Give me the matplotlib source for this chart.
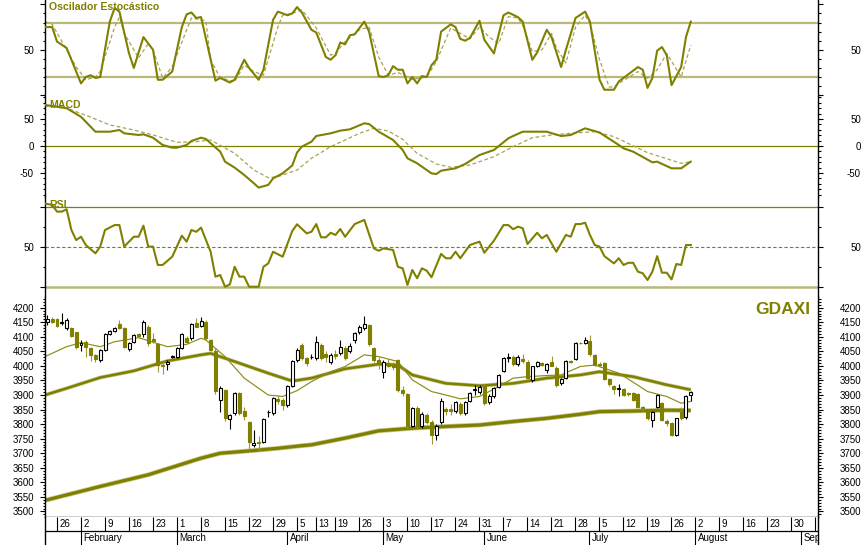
import numpy as np
import pandas as pd
import matplotlib
matplotlib.use("Agg")
import matplotlib.pyplot as plt

plt.rcParams['font.family'] = ['Liberation Sans Narrow', 'Liberation Sans', 'DejaVu Sans']

OLIVE = '#808000'
LIGHT = '#b9b97a'
DASH = '#a4a455'

# ---------------- data ----------------
first_day = '2004-01-22'
axis_end = '2004-09-06'
holidays = ['2004-04-09', '2004-04-12']
ref_day = '2004-01-26'   # indicator day numbers are counted from this session

opens = [4150, 4161, 4161, 4148, 4131, 4131, 4115, 4072, 4083, 4061,
         4038, 4020, 4055, 4109, 4120, 4143, 4129, 4058, 4083, 4110,
         4109, 4135, 4092, 4074, 4003, 4005, 4030, 4032, 4063, 4097,
         4097, 4146, 4138, 4152, 4089, 4051, 3883, 3918, 3818, 3837,
         3906, 3845, 3809, 3729, 3740, 3740, 3840, 3837, 3885, 3883,
         3866, 3932, 4020, 4072, 4026, 4031, 4026, 4072, 4040, 4012,
         4040, 4043, 4061, 4051, 4089, 4115, 4131, 4141, 4061, 4020,
         3980, 4010, 4005, 4020, 3918, 3903, 3795, 3857, 3792, 3832,
         3809, 3761, 3807, 3852, 3852, 3845, 3868, 3837, 3880, 3918,
         3910, 3932, 3875, 3895, 3929, 3983, 4028, 4032, 4006, 4025,
         4015, 3952, 4001, 4010, 3986, 4015, 3994, 3940, 3960, 4017,
         4024, 4080, 4078, 4086, 4038, 4005, 4009, 3955, 3931, 3920,
         3920, 3906, 3906, 3903, 3858, 3849, 3814, 3860, 3872, 3812,
         3803, 3761, 3843, 3823, 3900]
highs = [4175, 4168, 4165, 4181, 4166, 4134, 4118, 4090, 4088, 4066,
         4042, 4058, 4112, 4125, 4134, 4158, 4132, 4082, 4108, 4112,
         4158, 4140, 4112, 4078, 4018, 4020, 4036, 4066, 4112, 4102,
         4148, 4163, 4169, 4156, 4093, 4060, 3930, 3922, 3836, 3910,
         3910, 3860, 3812, 3780, 3760, 3822, 3850, 3893, 3900, 3890,
         3936, 4020, 4060, 4078, 4032, 4040, 4104, 4078, 4050, 4045,
         4055, 4090, 4068, 4080, 4115, 4140, 4170, 4145, 4066, 4030,
         4020, 4025, 4015, 4025, 3930, 3906, 3860, 3862, 3840, 3838,
         3815, 3800, 3890, 3860, 3870, 3880, 3875, 3880, 3910, 3935,
         3935, 3938, 3902, 3926, 3972, 4030, 4045, 4036, 4036, 4040,
         4020, 4000, 4018, 4015, 4010, 4035, 3998, 3960, 4022, 4020,
         4082, 4082, 4098, 4105, 4042, 4012, 4012, 3958, 3935, 3937,
         3925, 3912, 3910, 3906, 3862, 3852, 3845, 3904, 3876, 3818,
         3806, 3822, 3858, 3900, 3915]
lows = [4141, 4148, 4135, 4140, 4123, 4100, 4057, 4052, 4032, 4017,
        4015, 4015, 4050, 4105, 4116, 4128, 4060, 4050, 4078, 4095,
        4100, 4070, 4078, 3978, 3971, 3985, 4026, 4028, 4058, 4080,
        4090, 4132, 4135, 4090, 4050, 3905, 3840, 3812, 3784, 3830,
        3830, 3815, 3712, 3720, 3706, 3735, 3825, 3830, 3870, 3850,
        3860, 3928, 4012, 4020, 4000, 4025, 4020, 4020, 4015, 4005,
        4025, 4038, 4020, 4045, 4080, 4110, 4125, 4070, 4015, 3990,
        3960, 3995, 3985, 3912, 3895, 3788, 3790, 3788, 3788, 3800,
        3731, 3745, 3800, 3830, 3830, 3838, 3830, 3832, 3875, 3900,
        3905, 3865, 3870, 3890, 3925, 3978, 4015, 4000, 4000, 4010,
        3950, 3945, 3995, 3998, 3975, 3998, 3928, 3935, 3955, 4010,
        4020, 4075, 4075, 4035, 3998, 3995, 3950, 3932, 3905, 3895,
        3898, 3898, 3880, 3855, 3850, 3815, 3790, 3855, 3812, 3795,
        3758, 3758, 3815, 3818, 3878]
closes = [4161, 4152, 4138, 4150, 4158, 4104, 4066, 4080, 4066, 4038,
          4024, 4055, 4109, 4120, 4129, 4131, 4066, 4078, 4106, 4102,
          4150, 4078, 4086, 4003, 4000, 4012, 4033, 4063, 4109, 4083,
          4143, 4135, 4154, 4095, 4055, 3914, 3923, 3820, 3832, 3906,
          3837, 3829, 3740, 3735, 3735, 3818, 3841, 3889, 3880, 3866,
          3932, 4017, 4055, 4026, 4009, 4032, 4081, 4026, 4030, 4038,
          4035, 4066, 4026, 4070, 4112, 4135, 4143, 4074, 4020, 4005,
          4015, 4000, 3995, 3918, 3906, 3792, 3857, 3792, 3834, 3809,
          3763, 3795, 3880, 3845, 3846, 3875, 3837, 3875, 3906, 3920,
          3929, 3872, 3898, 3923, 3969, 4026, 4032, 4006, 4032, 4018,
          3958, 3998, 4012, 4004, 4006, 4000, 3935, 3955, 4017, 4013,
          4078, 4077, 4089, 4040, 4003, 4003, 3955, 3937, 3921, 3925,
          3900, 3904, 3883, 3860, 3854, 3820, 3841, 3900, 3815, 3805,
          3761, 3820, 3820, 3898, 3909]

ma20_day = [-2.5, 2, 5, 9, 12, 17, 23, 27, 30, 31, 35, 39, 44, 47, 50, 53, 57, 60, 64, 67,
            71, 74, 78, 81, 84, 88, 92, 95, 98, 102, 105, 109, 112, 117, 120, 123, 127, 130, 132]
ma20 = [4032, 4066, 4080, 4066, 4083, 4097, 4066, 4074, 4095, 4089, 4032, 3958, 3900, 3895, 3915,
        3946, 3980, 3998, 4038, 4032, 4015, 3952, 3912, 3900, 3887, 3895, 3929, 3958, 3963, 3967,
        3969, 3998, 4003, 3975, 3944, 3912, 3895, 3872, 3878]
ma50_day = [-2.5, 2, 9, 16, 23, 30, 32, 37, 44, 49, 53, 60, 67, 71, 74, 81, 88, 95, 102, 109,
            113, 120, 127, 132]
ma50 = [3900, 3923, 3960, 3983, 4017, 4038, 4043, 4015, 3975, 3948, 3958, 3990, 4006, 4003, 3969,
        3940, 3932, 3940, 3958, 3969, 3980, 3963, 3935, 3918]
ma200_day = [-2.5, 9, 19, 30, 34, 40, 46, 51, 53, 60, 67, 74, 81, 88, 95, 102, 109, 113, 120, 127, 132]
ma200 = [3538, 3586, 3626, 3683, 3700, 3708, 3717, 3726, 3729, 3752, 3777, 3786, 3792, 3797, 3809,
         3820, 3834, 3843, 3845, 3848, 3847]

stoch_k_day = [-2.5, -1, 0, 2, 5, 6, 7, 8, 9, 11, 12, 13, 15, 16, 18, 20, 21, 22, 24, 26,
               27, 28, 29, 30, 33, 34, 36, 37, 39, 40, 42, 43, 45, 46, 48, 49, 50, 51, 53, 54,
               56, 57, 58, 59, 60, 61, 62, 64, 65, 67, 68, 69, 70, 71, 72, 73, 74, 75, 76, 77,
               78, 79, 80, 82, 83, 84, 85, 86, 88, 89, 91, 93, 94, 96, 97, 99, 100, 102, 103, 105,
               106, 108, 110, 111, 113, 114, 116, 117, 118, 121, 122, 123, 124, 125, 126, 127, 128, 130, 131, 132]
stoch_k = [75, 75, 59, 52, 13, 20, 22, 19, 20, 81, 96, 92, 46, 30, 64, 50, 17, 17, 26, 75,
           89, 91, 85, 86, 16, 19, 14, 17, 39, 30, 17, 28, 83, 92, 88, 90, 97, 91, 72, 69,
           42, 39, 44, 58, 56, 66, 67, 81, 70, 21, 20, 22, 32, 28, 28, 13, 20, 13, 21, 20,
           33, 39, 70, 78, 75, 62, 60, 63, 82, 61, 46, 88, 91, 86, 81, 39, 47, 72, 64, 31,
           50, 85, 92, 81, 17, 6, 6, 15, 19, 31, 28, 8, 19, 49, 53, 44, 11, 31, 64, 81]
stoch_d_day = [-2.5, -1, 4, 6, 8, 9, 12, 13, 14, 17, 19, 20, 22, 24, 27, 28, 31, 32, 34, 37,
               39, 41, 43, 46, 47, 49, 51, 54, 57, 58, 60, 63, 65, 67, 69, 71, 74, 77, 79, 82,
               84, 86, 88, 90, 92, 94, 96, 97, 99, 101, 103, 104, 106, 108, 110, 111, 113, 115, 116, 117,
               121, 123, 125, 127, 130, 132]
stoch_d = [81, 78, 31, 17, 20, 26, 75, 86, 68, 41, 57, 50, 19, 31, 72, 85, 82, 39, 19, 15,
           33, 26, 22, 75, 88, 90, 94, 74, 44, 46, 59, 72, 75, 42, 22, 25, 17.5, 20, 37, 74,
           68, 62, 75, 64, 57, 86.5, 85, 77, 48, 50, 68, 52, 35.5, 75, 88, 79, 39, 9, 9, 13,
           26, 18.6, 28, 46, 20, 55]

macd_day = [-2.5, 2, 5, 8, 11, 13, 14, 17, 18, 20, 22, 24, 25, 27, 28, 30, 31, 34, 35, 37,
            39, 41, 42, 44, 45, 47, 49, 50, 51, 53, 54, 57, 59, 61, 64, 65, 67, 70, 72, 73,
            75, 78, 79, 80, 83, 85, 88, 91, 94, 95, 97, 102, 105, 107, 110, 113, 117, 118, 120, 124,
            125, 128, 130, 132]
macd = [76, 70, 54, 26.5, 26.5, 29.6, 23.5, 20.4, 21.6, 15.4, 1.9, -3.1, -3.1, 1.9, 9.3, 15.4, 13, -10.5, -29, -40,
        -53.7, -69, -77, -72, -60, -50.6, -36, -12, -1.2, 8, 18.5, 23.5, 28.4, 30.9, 42, 40.7, 26.5, 11.1, -7.4, -22.8,
        -32, -50.6, -51.9, -45.7, -41.3, -33.3, -16.7, -7.4, 14.2, 18.5, 26.5, 26.5, 18.5, 20.4, 32.7, 25, 1.9, -4.3, -10.5, -30.2,
        -29, -41.3, -41.3, -29]
signal_day = [-2.5, 2, 6, 11, 16, 20, 25, 29, 32, 37, 41, 44, 46, 50, 53, 57, 60, 63, 66, 69,
              72, 75, 79, 82, 86, 91, 95, 99, 103, 107, 112, 116, 123, 130, 132]
signal = [74, 70, 57, 39, 29.6, 20.4, 6.8, 8, 11.1, -13.6, -44.4, -58.6, -56.8, -44.4, -22.8, -1.2, 11.1, 23.5, 32.8, 27.8,
          12.4, -13.6, -33.3, -39.5, -35.2, -19.8, -1.2, 15.4, 20.4, 23.5, 26.5, 17.3, -12.3, -32, -29]

rsi_day = [-2.5, -1, 0, 1, 2, 3, 4, 5, 6, 8, 9, 10, 12, 13, 14, 16, 17, 18, 19, 20,
           21, 22, 24, 26, 27, 28, 29, 30, 32, 33, 34, 35, 36, 37, 38, 39, 40, 42, 43, 44,
           45, 47, 49, 50, 52, 53, 54, 55, 56, 57, 58, 59, 60, 62, 64, 66, 67, 68, 70, 71,
           72, 73, 74, 75, 76, 77, 78, 80, 81, 82, 83, 84, 86, 88, 89, 91, 93, 94, 95, 96,
           97, 98, 100, 101, 102, 104, 106, 107, 108, 109, 110, 111, 112, 113, 114, 116, 117, 118, 119, 120,
           121, 122, 123, 124, 125, 126, 127, 128, 129, 130, 131, 132]
rsi = [72, 71.3, 67.9, 67.9, 69.1, 58.6, 53.5, 55.2, 51, 46.8, 50.2, 58.6, 61.1, 61.1, 50.2, 55.2, 55.2, 60.8, 50.2, 50.2,
       40.9, 40.9, 45.1, 55.7, 52.7, 58.6, 57.7, 59.8, 47.6, 35, 35.8, 29.9, 31.1, 40, 35, 35, 29.9, 29.9, 40, 41.7,
       47.6, 45.1, 58.1, 61.5, 56.9, 57.7, 61.6, 54.9, 54.9, 57.2, 56.1, 59.1, 55.2, 61.6, 63.7, 49.3, 48.1, 49.3, 48.5, 40,
       39.2, 30.8, 38.4, 34.2, 39.2, 38, 34.7, 46.5, 44.3, 44.3, 47.6, 44.3, 51, 52.7, 47.1, 53.2, 61.1, 61.1, 59, 60.3,
       59.5, 51.5, 57.2, 54.4, 56.1, 47.6, 56.1, 55.2, 61.6, 61.6, 62.3, 56.1, 51, 50.2, 45.4, 41.7, 44.3, 40.9, 42, 42,
       37.5, 36.7, 33.3, 37.5, 45.4, 37, 37, 33.6, 41.4, 40.9, 51, 51]

month_names = ['January', 'February', 'March', 'April', 'May', 'June', 'July', 'August', 'September']
symbol = 'GDAXI'

# ---------------- calendar (trading sessions) ----------------
cal = pd.bdate_range(first_day, '2004-09-10')
cal = cal[~cal.isin(pd.to_datetime(holidays))]
base = cal.get_loc(pd.Timestamp(ref_day))
x_end = cal.get_loc(pd.Timestamp(axis_end))
XLIM = (-0.5, x_end + 0.5)

def pos(days):
    return np.asarray(days, dtype=float) + base

# ---------------- figure ----------------
W, H = 864, 545
L, R = 45, 818
fig = plt.figure(figsize=(W / 100, H / 100), dpi=100)
fig.patch.set_facecolor('white')

def rect(top, bot):
    return [L / W, 1 - bot / H, (R - L) / W, (bot - top) / H]

ax_st = fig.add_axes(rect(0, 97))
ax_md = fig.add_axes(rect(97, 197))
ax_rs = fig.add_axes(rect(197, 297))
ax_pr = fig.add_axes(rect(297, 517))
ax_dt = fig.add_axes(rect(517, 545))

TL = 3.6
TLm = 1.8
PX = 0.72

def style(ax, ylim, major, minor, labels, bottom_spine=False):
    ax.set_xlim(*XLIM)
    ax.set_ylim(*ylim)
    ax.set_xticks([])
    for s in ['top', 'bottom']:
        ax.spines[s].set_visible(False)
    if bottom_spine:
        ax.spines['bottom'].set_visible(True)
    for s in ax.spines.values():
        s.set_linewidth(1.0)
        s.set_color('black')
    ax.set_yticks(major, labels=labels, fontsize=7)
    ax.set_yticks(minor, minor=True)
    ax.tick_params(axis='y', which='major', length=TL, width=0.8, pad=6 * PX, direction='out',
                   left=True, right=False)
    ax.tick_params(axis='y', which='minor', length=TLm, width=0.8, direction='out',
                   left=True, right=False)
    axr = ax.twinx()
    axr.set_ylim(*ylim)
    axr.set_yticks(major, labels=labels, fontsize=7)
    axr.set_yticks(minor, minor=True)
    axr.tick_params(axis='y', which='major', length=TL, width=0.8, pad=38 * PX, direction='out')
    axr.tick_params(axis='y', which='minor', length=TLm, width=0.8, direction='out')
    for t in axr.get_yticklabels():
        t.set_horizontalalignment('right')
    for s in axr.spines.values():
        s.set_visible(False)
    axr.set_xticks([])
    return axr

# ---------- stochastic ----------
style(ax_st, (-2, 104.8), [0, 50, 100], list(range(10, 100, 10)), ['', '50', ''])
ax_st.axhline(80, color=LIGHT, lw=1.6, zorder=1)
ax_st.axhline(20, color=LIGHT, lw=1.6, zorder=1)
ax_st.plot(pos(stoch_d_day), stoch_d, color=DASH, lw=0.9, dashes=(3, 2), zorder=2)
ax_st.plot(pos(stoch_k_day), stoch_k, color=OLIVE, lw=1.5, zorder=3)
ax_st.text(4 / (R - L), 1 - 2 / 97, 'Oscilador Estocástico', transform=ax_st.transAxes,
           ha='left', va='top', color=OLIVE, fontsize=7.6, fontweight='bold',
           family=['Liberation Sans', 'DejaVu Sans'])

# ---------- MACD ----------
style(ax_md, (-94.4, 90.7), [-50, 0, 50], list(range(-90, 91, 10)), ['-50', '0', '50'])
ax_md.axhline(0, color=OLIVE, lw=0.9, zorder=1)
ax_md.plot(pos(signal_day), signal, color=DASH, lw=0.9, dashes=(3, 2), zorder=2)
ax_md.plot(pos(macd_day), macd, color=OLIVE, lw=1.5, zorder=3)
ax_md.text(4 / (R - L), 1 - 3 / 100, 'MACD', transform=ax_md.transAxes,
           ha='left', va='top', color=OLIVE, fontsize=7.6, fontweight='bold',
           family=['Liberation Sans', 'DejaVu Sans'])

# ---------- RSI ----------
style(ax_rs, (24.7, 75.3), [30, 50, 70], [40, 60], ['', '50', ''])
ax_rs.axhline(70, color=OLIVE, lw=0.9, zorder=1)
ax_rs.axhline(50, color=OLIVE, lw=0.8, dashes=(3, 2), zorder=1)
ax_rs.axhline(30, color=LIGHT, lw=1.8, zorder=1)
ax_rs.plot(pos(rsi_day), rsi, color=OLIVE, lw=1.5, zorder=3)
ax_rs.text(4 / (R - L), 1 - 3 / 100, 'RSI', transform=ax_rs.transAxes,
           ha='left', va='top', color=OLIVE, fontsize=7.6, fontweight='bold',
           family=['Liberation Sans', 'DejaVu Sans'])

# ---------- price ----------
style(ax_pr, (3481, 4236.7), list(range(3500, 4201, 50)), list(range(3490, 4231, 10)),
      [str(v) for v in range(3500, 4201, 50)], bottom_spine=True)

ax_pr.plot(pos(ma200_day), ma200, color='#c6c68e', lw=3.4, zorder=2, solid_capstyle='butt')
ax_pr.plot(pos(ma200_day), ma200, color=OLIVE, lw=2.3, zorder=2, solid_capstyle='butt')
ax_pr.plot(pos(ma50_day), ma50, color='#c6c68e', lw=2.8, zorder=2, solid_capstyle='butt')
ax_pr.plot(pos(ma50_day), ma50, color=OLIVE, lw=1.8, zorder=2, solid_capstyle='butt')
ax_pr.plot(pos(ma20_day), ma20, color='#8c8c1a', lw=0.85, zorder=2)

o = np.array(opens, float)
h = np.array(highs, float)
lo = np.array(lows, float)
c = np.array(closes, float)
xs = np.arange(len(o))
up = c >= o
ax_pr.vlines(xs[up], lo[up], h[up], color='black', lw=0.8, zorder=3)
ax_pr.vlines(xs[~up], lo[~up], h[~up], color='#9a9a30', lw=0.8, zorder=3)
bw = 0.62
ax_pr.bar(xs[up], np.abs(c - o)[up], bottom=np.minimum(o, c)[up], width=bw,
          color='white', edgecolor='black', linewidth=0.8, zorder=4)
ax_pr.bar(xs[~up], np.abs(c - o)[~up], bottom=np.minimum(o, c)[~up], width=bw,
          color=OLIVE, edgecolor=OLIVE, linewidth=0.8, zorder=4)

ax_pr.text((810 - L) / (R - L), 1 - 5 / 220, symbol, transform=ax_pr.transAxes,
           ha='right', va='top', color=OLIVE, fontsize=12.5, fontweight='bold',
           family=['Liberation Sans', 'DejaVu Sans'])

# ---------- date axis ----------
ax_dt.set_xlim(*XLIM)
ax_dt.set_ylim(0, 2)
ax_dt.set_xticks([])
ax_dt.set_yticks([])
for s in ['top', 'bottom']:
    ax_dt.spines[s].set_visible(False)
for s in ['left', 'right']:
    ax_dt.spines[s].set_linewidth(1.0)
ax_dt.axhline(1, color='black', lw=0.9)

week_first = []
prev_week = None
for k, d in enumerate(cal):
    wk = d.isocalendar()[1]
    if wk != prev_week:
        if k > 0 or d.weekday() == 0:
            week_first.append((k, d))
        prev_week = wk
month_first = []
prev_m = cal[0].month
for k, d in enumerate(cal):
    if d.month != prev_m:
        month_first.append((k, d))
        prev_m = d.month

for k, d in week_first:
    if k > x_end:
        continue
    ax_dt.vlines(k - 0.1, 1, 2, color='black', lw=0.8)
    ax_dt.text(k + 0.45, 1.5, str(d.day), ha='left', va='center', fontsize=7, clip_on=True)
for k, d in month_first:
    if k > x_end:
        continue
    ax_dt.vlines(k - 0.1, 0, 1, color='black', lw=0.8)
    ax_dt.text(k + 0.45, 0.5, month_names[d.month - 1], ha='left', va='center', fontsize=7,
               clip_on=True)

fig.savefig('out.png', dpi=100, facecolor='white')
